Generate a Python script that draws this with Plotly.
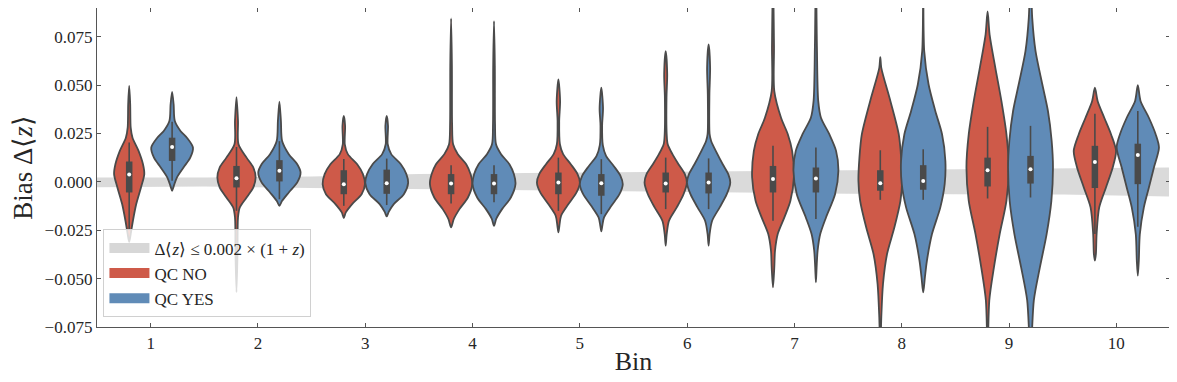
import plotly.graph_objects as go

# ---------------- data ----------------
BINS = [1, 2, 3, 4, 5, 6, 7, 8, 9, 10]
X_TICK_LABELS = ["1", "2", "3", "4", "5", "6", "7", "8", "9", "10"]
Y_TICKS = [-0.075, -0.050, -0.025, 0.000, 0.025, 0.050, 0.075]

# tolerance band |Δ<z>| <= 0.002 (1+z) : edges read at bin boundaries
BAND_X = [0.5, 1.5, 2.5, 3.5, 4.5, 5.5, 6.5, 7.5, 8.5, 9.5, 10.5]
BAND_HI = [0.0022, 0.0022, 0.0028, 0.0040, 0.0045, 0.0050, 0.0054, 0.0058, 0.0062, 0.0066, 0.0074]
BAND_LO = [-0.0028, -0.0024, -0.0032, -0.0038, -0.0043, -0.0050, -0.0055, -0.0062, -0.0064, -0.0066, -0.0076]

# violin density profiles (bias level, relative density) for QC NO
QCNO_Y = [
    [-0.031, -0.027, -0.0201, -0.0115, -0.0029, 0.004, 0.0091, 0.016, 0.0228, 0.028, 0.0401, 0.0495],
    [-0.057, -0.0371, -0.0184, -0.0132, -0.0081, -0.0029, 0.0022, 0.0074, 0.0125, 0.0194, 0.0314, 0.0438],
    [-0.0187, -0.0158, -0.0115, -0.0064, -0.0012, 0.004, 0.0091, 0.0143, 0.0194, 0.0289, 0.034],
    [-0.0235, -0.0192, -0.0141, -0.0081, -0.0012, 0.004, 0.0091, 0.0143, 0.0194, 0.03, 0.06, 0.0844],
    [-0.0261, -0.0227, -0.0175, -0.0115, -0.0055, -0.0003, 0.004, 0.0091, 0.0143, 0.0194, 0.0314, 0.0418, 0.0529],
    [-0.033, -0.027, -0.0201, -0.0132, -0.0064, -0.0003, 0.004, 0.0091, 0.0143, 0.0194, 0.0246, 0.0435, 0.0555, 0.0675],
    [-0.0545, -0.0442, -0.0356, -0.027, -0.0184, -0.0098, 0.0022, 0.016, 0.0246, 0.0331, 0.0469, 0.07, 0.11],
    [-0.09, -0.0699, -0.0527, -0.0373, -0.0235, -0.0098, 0.0005, 0.0125, 0.0246, 0.0418, 0.0589, 0.0644],
    [-0.09, -0.0613, -0.0442, -0.027, -0.0098, 0.0074, 0.0246, 0.0418, 0.0589, 0.0761, 0.088],
    [-0.0407, -0.0373, -0.027, -0.0132, -0.0029, 0.0074, 0.016, 0.0246, 0.0331, 0.0418, 0.0486],
]
QCNO_D = [
    [0, 1.5, 3.7, 7, 11.7, 15, 13.7, 9.3, 3.3, 1.5, 1, 0],
    [0, 1, 1.5, 3.3, 10, 16.7, 19, 16.7, 10, 2, 1.5, 0],
    [0, 2, 8.3, 17.7, 21, 19, 13.3, 4, 1, 1.3, 0],
    [0, 2.7, 8.3, 16.7, 21, 19.3, 15, 6.7, 2, 1, 0.8, 0],
    [0, 1, 2.7, 10, 18, 21.3, 19, 12.3, 4.7, 1.5, 0.8, 1.7, 0],
    [0, 1, 3.3, 11, 17.7, 21, 19, 12.7, 6.7, 2, 1, 0.8, 1.5, 0],
    [0, 1.3, 2, 4.7, 11.3, 17.3, 20.7, 19, 14.7, 8, 1.3, 1, 0],
    [0, 1, 2.7, 6.7, 14, 20, 21.7, 20.7, 18.3, 10, 1, 0],
    [0, 1.7, 6.3, 12, 18.7, 21, 18.7, 13.7, 7.7, 2, 0],
    [0, 1, 1.7, 4.3, 11, 17.7, 21, 16, 9.3, 2.7, 0],
]

# violin density profiles for QC YES
QCYES_Y = [
    [-0.0046, -0.0021, 0.0022, 0.0074, 0.0125, 0.0177, 0.0228, 0.0263, 0.0314, 0.0401, 0.0465],
    [-0.0124, -0.0098, -0.0055, -0.0003, 0.0048, 0.0091, 0.0143, 0.0211, 0.0314, 0.0414],
    [-0.0179, -0.0155, -0.0115, -0.0064, -0.0005, 0.004, 0.0091, 0.0143, 0.0194, 0.0289, 0.034],
    [-0.0227, -0.019, -0.0141, -0.0081, -0.0012, 0.004, 0.0091, 0.0143, 0.0194, 0.03, 0.06, 0.083],
    [-0.0256, -0.0227, -0.0184, -0.0124, -0.0064, -0.0012, 0.0031, 0.0082, 0.0134, 0.019, 0.029, 0.038, 0.0486],
    [-0.033, -0.027, -0.0201, -0.0132, -0.0064, -0.0003, 0.004, 0.0091, 0.0151, 0.0211, 0.0246, 0.045, 0.059, 0.071],
    [-0.0519, -0.0442, -0.0356, -0.027, -0.0184, -0.0064, 0.0057, 0.016, 0.0246, 0.0331, 0.0418, 0.07, 0.11],
    [-0.0571, -0.0493, -0.0407, -0.027, -0.0132, -0.0012, 0.0108, 0.0246, 0.0366, 0.0504, 0.0675, 0.11],
    [-0.09, -0.0613, -0.0442, -0.027, -0.0098, 0.0074, 0.0211, 0.0366, 0.0504, 0.0675, 0.0847, 0.11],
    [-0.0485, -0.0407, -0.027, -0.0132, -0.0029, 0.0074, 0.0177, 0.0246, 0.0331, 0.0418, 0.05],
]
QCYES_D = [
    [0, 1.7, 4.7, 11.3, 18, 20.7, 14.7, 8.3, 2.7, 1.5, 0],
    [0, 2.7, 9.3, 17.7, 21, 17.7, 9.3, 2.7, 1.5, 0],
    [0, 2, 7, 17, 21.3, 19.5, 14, 4.5, 1, 1.3, 0],
    [0, 2.3, 8, 16.7, 21.3, 19.7, 15.3, 7, 2, 1, 0.8, 0],
    [0, 1, 2.7, 10, 18, 21.3, 19, 12.3, 4.7, 1.5, 0.8, 1.7, 0],
    [0, 1, 3.5, 11, 18, 21.5, 19.5, 14, 8, 2.5, 1, 0.8, 1.5, 0],
    [0, 0.7, 1.7, 4.3, 10, 19, 22.3, 20, 13.3, 5, 2.3, 1, 0],
    [0, 1.7, 3.7, 8.7, 17, 21.3, 22, 18.7, 12, 5.3, 1, 0],
    [0, 3.3, 9.3, 16, 20.7, 22.3, 21, 17.3, 11.7, 5, 1.7, 0],
    [0, 1, 2, 6, 11, 16, 21, 17.7, 11, 2.7, 0],
]

# inner box statistics: [whisker low, q1, median, q3, whisker high]
QCNO_BOX = [
    [-0.025, -0.0055, 0.0038, 0.0105, 0.0203],
    [-0.015, -0.0029, 0.0019, 0.0082, 0.018],
    [-0.0124, -0.0064, -0.0012, 0.006, 0.0118],
    [-0.0112, -0.0064, -0.0009, 0.004, 0.0086],
    [-0.015, -0.0064, -0.0003, 0.0048, 0.0125],
    [-0.0141, -0.0055, -0.0009, 0.0048, 0.0125],
    [-0.0201, -0.0055, 0.0014, 0.0082, 0.0186],
    [-0.0093, -0.0046, -0.0007, 0.006, 0.0163],
    [-0.0086, -0.0024, 0.006, 0.0125, 0.0284],
    [-0.027, -0.0032, 0.0103, 0.0186, 0.0352],
]
QCYES_BOX = [
    [0.0005, 0.0108, 0.018, 0.0228, 0.031],
    [-0.009, 0.0002, 0.0057, 0.0112, 0.021],
    [-0.012, -0.0062, -0.0007, 0.0063, 0.012],
    [-0.0105, -0.0064, -0.0009, 0.004, 0.0086],
    [-0.0167, -0.0072, -0.0007, 0.004, 0.0117],
    [-0.0141, -0.006, -0.0003, 0.0048, 0.0121],
    [-0.0192, -0.0055, 0.0017, 0.0074, 0.0177],
    [-0.0093, -0.0041, 0.0004, 0.0086, 0.0168],
    [-0.0081, -0.0009, 0.0065, 0.0134, 0.0289],
    [-0.0232, -0.0012, 0.0138, 0.0197, 0.0366],
]

# ---------------- styling ----------------
RED = "#CE5A49"
BLUE = "#608BB7"
BAND = "rgba(205,205,205,0.75)"
EDGE = "#4a4a4a"
FONT = "Liberation Serif"
DODGE = 0.2
HALF_MAX = 0.2
D_REF = 21.3

fig = go.Figure()

BAND_NAME = "Δ⟨<i>z</i>⟩ ≤ 0.002 × (1 + <i>z</i>)"

# tolerance band
fig.add_trace(go.Scatter(
    x=BAND_X + BAND_X[::-1], y=BAND_HI + BAND_LO[::-1],
    fill="toself", fillcolor=BAND, mode="lines",
    line=dict(width=0, color=BAND),
    name=BAND_NAME, showlegend=False, hoverinfo="skip",
))


def add_violins(ys_all, ds_all, boxes, offset, color, name):
    for i, b in enumerate(BINS):
        c = b + offset
        ys = ys_all[i]
        ds = ds_all[i]
        right = [c + d / D_REF * HALF_MAX for d in ds]
        left = [c - d / D_REF * HALF_MAX for d in ds]
        xs = right + left[::-1][1:]
        yy = ys + ys[::-1][1:]
        fig.add_trace(go.Scatter(
            x=xs, y=yy, mode="lines", fill="toself", fillcolor=color,
            line=dict(color=EDGE, width=1.8, shape="spline", smoothing=0.8),
            name=name, showlegend=False, hoverinfo="skip",
        ))
    wx, wy, bx, by, mx, my = [], [], [], [], [], []
    for i, b in enumerate(BINS):
        c = b + offset
        lo, q1, med, q3, hi = boxes[i]
        wx += [c, c, None]
        wy += [lo, hi, None]
        bx += [c, c, None]
        by += [q1, q3, None]
        mx.append(c)
        my.append(med)
    fig.add_trace(go.Scatter(x=wx, y=wy, mode="lines", line=dict(color=EDGE, width=1.6),
                             showlegend=False, hoverinfo="skip"))
    fig.add_trace(go.Scatter(x=bx, y=by, mode="lines", line=dict(color=EDGE, width=6.5),
                             showlegend=False, hoverinfo="skip"))
    fig.add_trace(go.Scatter(x=mx, y=my, mode="markers",
                             marker=dict(color="white", size=4, line=dict(width=0)),
                             showlegend=False, hoverinfo="skip"))


add_violins(QCNO_Y, QCNO_D, QCNO_BOX, -DODGE, RED, "QC NO")
add_violins(QCYES_Y, QCYES_D, QCYES_BOX, DODGE, BLUE, "QC YES")

# legend entries (patches)
for nm, col in [(BAND_NAME, "rgb(215,215,215)"), ("QC NO", RED), ("QC YES", BLUE)]:
    fig.add_trace(go.Scatter(x=[None], y=[None], mode="lines",
                             line=dict(color=col, width=12), name=nm))

axis_common = dict(
    showline=True, linecolor="#555555", linewidth=1.3, mirror="ticks",
    ticks="inside", ticklen=4, tickwidth=1, tickcolor="#555555",
    showgrid=False, zeroline=False,
    tickfont=dict(family=FONT, size=17, color="#262626"),
)

# page body adds an 8 px offset, so the figure is sized to fit the 1177x382 window
fig.update_layout(
    width=1169, height=374,
    margin=dict(l=89, r=7, t=0, b=55),
    paper_bgcolor="white", plot_bgcolor="white",
    font=dict(family=FONT, color="#262626"),
    xaxis=dict(range=[0.5, 10.5], tickvals=BINS, ticktext=X_TICK_LABELS,
               title=dict(text="Bin", font=dict(family=FONT, size=26), standoff=0),
               **axis_common),
    yaxis=dict(range=[-0.075, 0.0898], tickvals=Y_TICKS, tickformat=".3f",
               title=dict(text="Bias Δ⟨<i>z</i>⟩", font=dict(family=FONT, size=27), standoff=10),
               **axis_common),
    legend=dict(x=0.006, y=0.03, xanchor="left", yanchor="bottom",
                bgcolor="rgba(255,255,255,0.8)", bordercolor="#d0d0d0", borderwidth=1,
                font=dict(family=FONT, size=17, color="#262626"),
                itemwidth=40, tracegroupgap=2),
    showlegend=True,
)

fig.write_html("out.html")
